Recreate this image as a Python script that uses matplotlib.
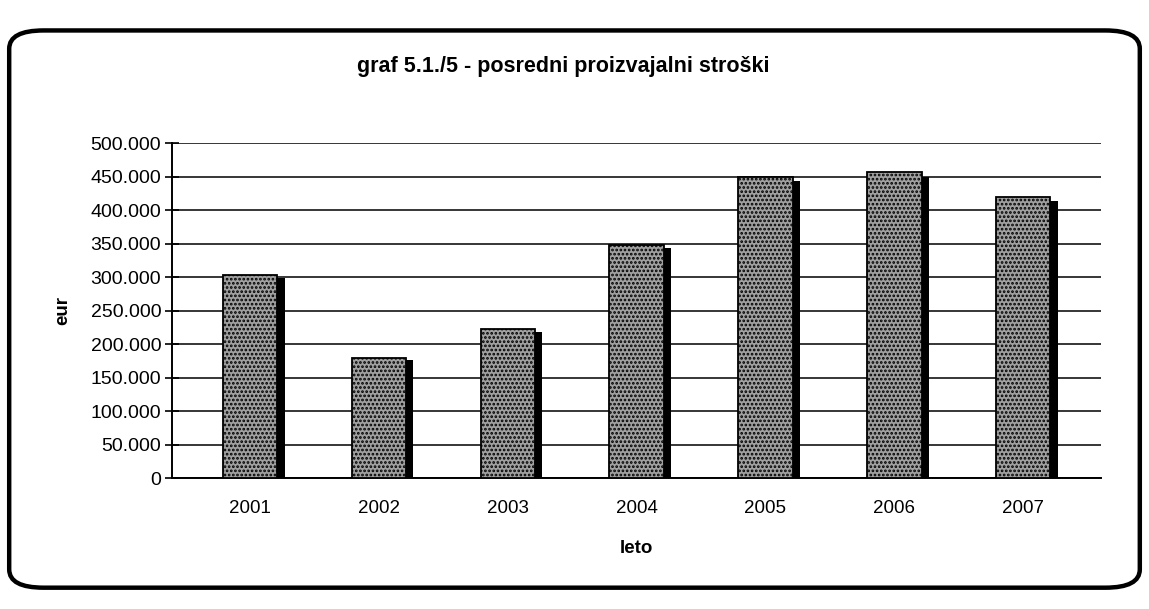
import matplotlib
matplotlib.use("Agg")
import matplotlib.pyplot as plt
from matplotlib.patches import FancyBboxPatch
from matplotlib.ticker import FuncFormatter, MultipleLocator

plt.rcParams['font.family'] = ['Liberation Sans', 'DejaVu Sans']
plt.rcParams['hatch.linewidth'] = 1.3

title = "graf 5.1./5 - posredni proizvajalni stroški"
years = ["2001", "2002", "2003", "2004", "2005", "2006", "2007"]
values = [303000, 179000, 222000, 348000, 450000, 457000, 420000]
y_label = "eur"
x_label = "leto"

fig = plt.figure(figsize=(11.49, 6.09), dpi=100)
fig.patch.set_facecolor("white")

# rounded border of the chart area
frame = FancyBboxPatch((0.008, 0.035), 0.984, 0.915,
                       boxstyle="round,pad=0,rounding_size=0.03",
                       transform=fig.transFigure, fill=False,
                       edgecolor="black", linewidth=3.2)
fig.patches.append(frame)

fig.text(0.49, 0.890, title, ha="center", va="center",
         fontsize=15.5, fontweight="bold")

ax = fig.add_axes([0.150, 0.215, 0.808, 0.550])
x = list(range(len(years)))
w = 0.42
# shadow (3D look)
ax.bar([i + 0.06 for i in x], [v * 0.985 for v in values], width=w,
       color="black", zorder=2)
ax.bar(x, values, width=w, facecolor="#a0a0a0", edgecolor="black",
       hatch="....", linewidth=1.3, zorder=3)

ax.set_ylim(0, 500000)
ax.set_xlim(-0.6, len(years) - 0.4)
ax.yaxis.set_major_locator(MultipleLocator(50000))
ax.yaxis.set_major_formatter(FuncFormatter(lambda v, p: f"{v:,.0f}".replace(",", ".")))
ax.set_xticks(x)
ax.set_xticklabels(years)
ax.grid(axis="y", color="black", linewidth=1.1, zorder=0)
ax.set_axisbelow(True)
for s in ["top", "right"]:
    ax.spines[s].set_visible(False)
ax.spines["left"].set_linewidth(1.4)
ax.spines["bottom"].set_linewidth(1.4)
ax.tick_params(axis="y", direction="inout", length=10, width=1.2,
               labelsize=14, pad=3)
ax.tick_params(axis="x", length=0, labelsize=13.5, pad=16)
ax.set_ylabel(y_label, fontsize=13.5, fontweight="bold", labelpad=14)
ax.set_xlabel(x_label, fontsize=13.5, fontweight="bold", labelpad=16)

fig.savefig("out.png", dpi=100)
